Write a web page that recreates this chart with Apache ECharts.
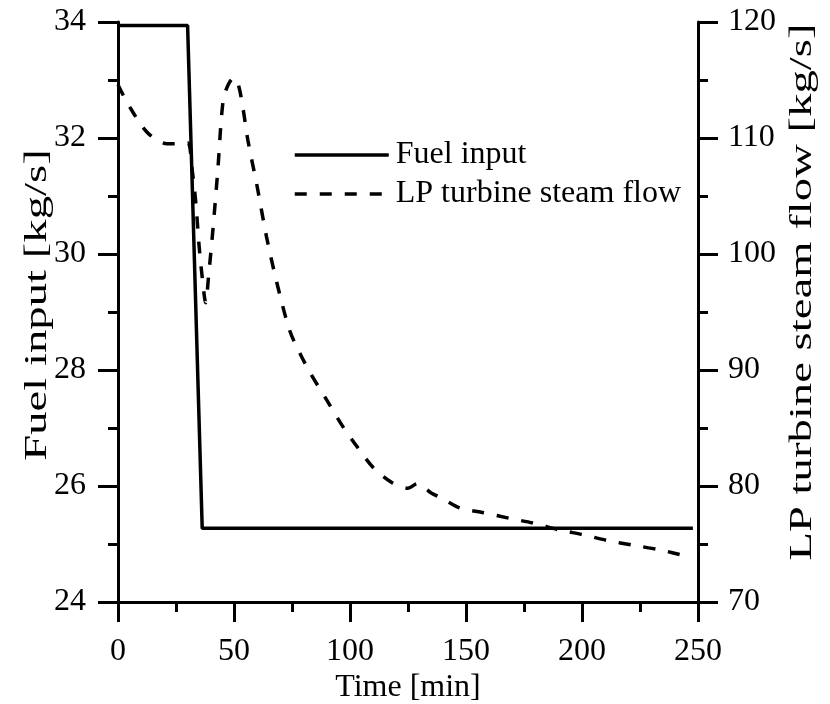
<!DOCTYPE html>
<html>
<head>
<meta charset="utf-8">
<script src="https://cdn.jsdelivr.net/npm/echarts@6/dist/echarts.min.js"></script>
<style>
  html, body { margin: 0; padding: 0; background: #fff; }
  #chart { width: 830px; height: 704px; }
</style>
</head>
<body>
<div id="chart"></div>
<script>
// fuel input [kg/s], left axis
const fuelTime = [0, 30, 36.3, 247.8];
const fuelInput = [33.94, 33.94, 25.27, 25.27];

// LP turbine steam flow [kg/s], right axis
const lpTime = [0, 3, 6.5, 10, 13, 17, 21, 26, 30, 32, 33.5, 35, 36.3, 37.8, 39, 41, 43, 45.3, 47.5, 50, 52, 54, 56, 60, 64, 68.5, 74, 78.5, 83, 90, 97, 103, 110, 118, 125, 129, 135, 140, 147.5, 157.5, 169, 179, 190.5, 200.5, 211, 222, 233.5, 246];
const lpFlow = [114.6, 113.4, 112.2, 111.1, 110.4, 109.8, 109.5, 109.5, 109.6, 107.2, 104.5, 100.6, 98, 95.8, 98, 102.3, 107.2, 113.2, 114.6, 115.2, 114.5, 112.4, 109.8, 105.8, 101.5, 97.5, 93.4, 91.4, 89.7, 87.4, 85.1, 83.4, 81.6, 80.3, 79.8, 80.2, 79.4, 78.9, 78.1, 77.7, 77.2, 76.8, 76.2, 75.8, 75.3, 74.9, 74.5, 73.9];

const font = "'Liberation Serif', 'DejaVu Serif', serif";
const black = "#000";

const chart = echarts.init(document.getElementById("chart"));

// shared axis look
function axisStyle(extra) {
  return Object.assign({
    axisLine: { show: true, onZero: false, lineStyle: { color: black, width: 3 } },
    axisTick: { show: true, inside: false, length: 20, lineStyle: { color: black, width: 3 } },
    minorTick: { show: true, splitNumber: 2, length: 10, lineStyle: { color: black, width: 3 } },
    splitLine: { show: false },
    minorSplitLine: { show: false },
    nameLocation: "middle",
    nameMoveOverlap: false,
    nameTextStyle: { fontFamily: font, fontSize: 32, color: black },
  }, extra);
}

// vertical axis titles, stretched along the text like in the source figure
function sideTitle(text, x, y) {
  return {
    type: "text",
    x: x,
    y: y,
    rotation: Math.PI / 2,
    scaleX: 1.46,
    style: {
      text: text,
      fontFamily: font,
      fontSize: 32,
      fill: black,
      align: "center",
      verticalAlign: "middle",
    },
  };
}

const option = {
  animation: false,
  backgroundColor: "#fff",
  grid: { left: 118, right: 132, top: 22, bottom: 102, containLabel: false, outerBoundsMode: "none" },
  legend: {
    orient: "vertical",
    left: 288,
    top: 134,
    itemWidth: 94,
    itemHeight: 14,
    itemGap: 7,
    // hide the marker circle, keep only the line sample
    itemStyle: { opacity: 0 },
    lineStyle: { width: 3.5 },
    textStyle: { fontFamily: font, fontSize: 32, color: black, padding: [0, 0, 0, 2] },
    data: ["Fuel input", "LP turbine steam flow"],
  },
  graphic: [
    sideTitle("Fuel input [kg/s]", 38, 305),
    sideTitle("LP turbine steam flow [kg/s]", 803, 292),
  ],
  xAxis: axisStyle({
    type: "value",
    min: 0,
    max: 250,
    interval: 50,
    name: "Time [min]",
    nameGap: 70,
    axisLabel: { margin: 34, fontFamily: font, fontSize: 32, color: black },
  }),
  yAxis: [
    axisStyle({
      type: "value",
      position: "left",
      min: 24,
      max: 34,
      interval: 2,
      axisLabel: { margin: 32, fontFamily: font, fontSize: 32, color: black },
    }),
    axisStyle({
      type: "value",
      position: "right",
      min: 70,
      max: 120,
      interval: 10,
      axisLabel: { margin: 30, fontFamily: font, fontSize: 32, color: black },
    }),
  ],
  series: [
    {
      name: "Fuel input",
      type: "line",
      yAxisIndex: 0,
      showSymbol: false,
      symbol: "none",
      lineStyle: { color: black, width: 3.5 },
      itemStyle: { color: black },
      data: fuelTime.map((t, i) => [t, fuelInput[i]]),
    },
    {
      name: "LP turbine steam flow",
      type: "line",
      yAxisIndex: 1,
      showSymbol: false,
      symbol: "none",
      smooth: 0.3,
      lineStyle: { color: black, width: 3.5, type: [12, 13] },
      itemStyle: { color: black },
      data: lpTime.map((t, i) => [t, lpFlow[i]]),
    },
  ],
};

chart.setOption(option);
</script>
</body>
</html>
